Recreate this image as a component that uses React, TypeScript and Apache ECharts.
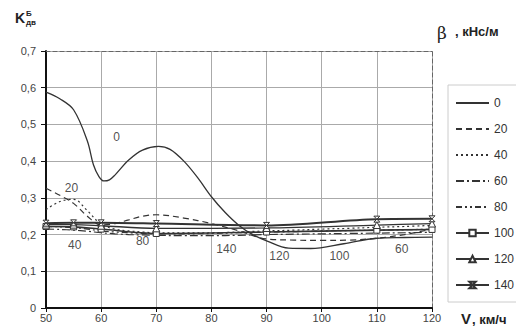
import React, { useEffect, useRef } from "react";
import * as echarts from "echarts";

// Speed grid (km/h) for the β = 0 curve
const V0 = [50, 52.5, 55, 57.5, 58.6, 59.6, 60.5, 61.5, 62.5, 65, 67.5, 70.4, 72.5, 75, 77.5, 80, 82.5, 85, 87.5, 90, 94, 98, 104, 110, 115, 120];
const beta0 = [0.588, 0.57, 0.54, 0.455, 0.39, 0.358, 0.346, 0.349, 0.362, 0.403, 0.43, 0.44, 0.432, 0.4, 0.355, 0.303, 0.26, 0.225, 0.2, 0.183, 0.163, 0.162, 0.175, 0.19, 0.192, 0.193];

// Speed grid for the other smooth curves
const V = [50, 52.5, 55, 57.5, 60, 62.5, 65, 67.5, 70, 75, 80, 85, 90, 95, 100, 105, 110, 115, 120];
const beta20 = [0.326, 0.307, 0.285, 0.25, 0.226, 0.23, 0.24, 0.25, 0.254, 0.245, 0.23, 0.21, 0.188, 0.185, 0.184, 0.185, 0.19, 0.2, 0.215];
const beta40 = [0.268, 0.29, 0.296, 0.265, 0.228, 0.215, 0.21, 0.207, 0.205, 0.205, 0.205, 0.207, 0.21, 0.212, 0.215, 0.217, 0.22, 0.222, 0.225];
const beta60 = [0.215, 0.214, 0.212, 0.209, 0.205, 0.202, 0.2, 0.199, 0.198, 0.197, 0.197, 0.198, 0.2, 0.201, 0.202, 0.203, 0.204, 0.205, 0.206];
const beta80 = [0.222, 0.221, 0.219, 0.215, 0.21, 0.207, 0.205, 0.203, 0.202, 0.202, 0.203, 0.205, 0.207, 0.208, 0.21, 0.211, 0.212, 0.213, 0.215];

// Speed grid for the curves with markers
const VM = [50, 55, 60, 70, 90, 110, 120];
const beta100 = [0.222, 0.221, 0.215, 0.203, 0.207, 0.212, 0.214];
const beta120 = [0.227, 0.227, 0.224, 0.217, 0.218, 0.226, 0.23];
const beta140 = [0.231, 0.232, 0.232, 0.23, 0.225, 0.242, 0.243];

const seriesNames = ["0", "20", "40", "60", "80", "100", "120", "140"];

// Curve annotations (text, V, K)
const annText = ["0", "20", "40", "80", "140", "120", "100", "60"];
const annV = [62.9, 54.7, 55.3, 67.6, 82.8, 92.4, 103.3, 114.6];
const annK = [0.465, 0.326, 0.171, 0.18, 0.158, 0.139, 0.139, 0.158];

const FONT = "'Liberation Sans', Arial, sans-serif";
const INK = "#333";

const zip = (xs: number[], ys: number[]) => xs.map((x, i) => [x, ys[i]]);

export default function App() {
  const ref = useRef<HTMLDivElement>(null);
  useEffect(() => {
    if (!ref.current) return;
    const chart = echarts.init(ref.current, null, { renderer: "svg" });
    const smoothLine = (name: string, xs: number[], data: number[], type: any, width = 1.2) => ({
      name,
      type: "line",
      data: zip(xs, data),
      smooth: 0.35,
      symbol: "none",
      lineStyle: { color: INK, width, type },
      itemStyle: { color: INK },
      z: 3,
    });
    const markLine = (name: string, data: number[], symbol: string, size: number, width = 1.3) => ({
      name,
      type: "line",
      data: zip(VM, data),
      smooth: 0.3,
      symbol,
      symbolSize: size,
      showSymbol: true,
      lineStyle: { color: INK, width },
      itemStyle: { color: "#fff", borderColor: INK, borderWidth: 1 },
      z: 4,
    });
    const plainItems = new Set(["0", "20", "40", "60", "80"]);
    chart.setOption({
      animation: false,
      textStyle: { fontFamily: FONT },
      grid: { left: 46, right: 84, top: 51, bottom: 25, containLabel: false },
      xAxis: [
        {
          type: "value",
          min: 50,
          max: 120,
          interval: 10,
          axisLine: { show: true, onZero: false, lineStyle: { color: "#111", width: 2 } },
          axisTick: { show: true, length: 4, lineStyle: { color: "#111" } },
          axisLabel: { color: "#444", fontSize: 11, margin: 4, fontFamily: FONT },
          splitLine: { show: true, lineStyle: { color: "#aaa", width: 1 } },
        },
        {
          type: "value",
          position: "top",
          min: 50,
          max: 120,
          interval: 10,
          axisLine: { show: true, onZero: false, lineStyle: { color: "#666", width: 1, type: [4, 3] } },
          axisTick: { show: false },
          axisLabel: { show: false },
          splitLine: { show: false },
        },
      ],
      yAxis: [
        {
          type: "value",
          min: 0,
          max: 0.7,
          interval: 0.1,
          axisLine: { show: true, onZero: false, lineStyle: { color: "#111", width: 2 } },
          axisTick: { show: true, length: 5, lineStyle: { color: "#111" } },
          axisLabel: {
            color: "#444",
            fontSize: 11,
            margin: 10,
            fontFamily: FONT,
            formatter: (v: number) => (v === 0 ? "0" : v.toFixed(1).replace(".", ",")),
          },
          splitLine: { show: true, lineStyle: { color: "#aaa", width: 1 } },
        },
        {
          type: "value",
          position: "right",
          min: 0,
          max: 0.7,
          interval: 0.1,
          axisLine: { show: true, onZero: false, lineStyle: { color: "#666", width: 1, type: [4, 3] } },
          axisTick: { show: false },
          axisLabel: { show: false },
          splitLine: { show: false },
        },
      ],
      legend: {
        orient: "vertical",
        left: 448,
        top: 85,
        width: 64,
        padding: [12, 5, 11, 7],
        itemWidth: 33,
        itemHeight: 8,
        itemGap: 14,
        borderColor: "#ccc",
        borderWidth: 1,
        textStyle: { color: INK, fontSize: 12, fontFamily: FONT },
        data: seriesNames.map((n) =>
          plainItems.has(n) ? { name: n, itemStyle: { opacity: 0 } } : { name: n }
        ),
      },
      series: [
        smoothLine(seriesNames[0], V0, beta0, "solid", 1.3),
        smoothLine(seriesNames[1], V, beta20, [6, 4]),
        smoothLine(seriesNames[2], V, beta40, [2, 3]),
        smoothLine(seriesNames[3], V, beta60, [8, 3, 2, 3]),
        smoothLine(seriesNames[4], V, beta80, [6, 3, 2, 3, 2, 3]),
        markLine(seriesNames[5], beta100, "rect", 6, 1.6),
        markLine(seriesNames[6], beta120, "triangle", 7, 1.3),
        markLine(seriesNames[7], beta140, "path://M0,0L10,0L0,10L10,10Z", 6, 2),
        {
          name: "annotations",
          type: "scatter",
          data: annV.map((v, i) => ({ value: [v, annK[i]], name: annText[i] })),
          symbolSize: 1,
          silent: true,
          itemStyle: { color: "rgba(0,0,0,0)" },
          label: {
            show: true,
            position: [0, 0],
            align: "center",
            verticalAlign: "middle",
            formatter: (p: any) => p.name,
            color: "#222",
            fontSize: 12,
            fontFamily: FONT,
          },
          z: 6,
        },
      ],
      graphic: [
        { type: "text", left: 15, top: 11, style: { text: "K", font: `bold 14px ${FONT}`, fill: "#222" } },
        { type: "text", left: 26, top: 9, style: { text: "Б", font: `bold 8px ${FONT}`, fill: "#222" } },
        { type: "text", left: 26, top: 18, style: { text: "дв", font: `bold 8px ${FONT}`, fill: "#222" } },
        { type: "text", left: 437, top: 24, style: { text: "β", font: `17px 'DejaVu Serif', serif`, fill: "#222" } },
        { type: "text", left: 455, top: 25, style: { text: ", кНс/м", font: `bold 13px ${FONT}`, fill: "#222" } },
        { type: "text", left: 461, top: 311, style: { text: "V", font: `bold 15px ${FONT}`, fill: "#222" } },
        { type: "text", left: 472, top: 313, style: { text: ", км/ч", font: `bold 13px ${FONT}`, fill: "#222" } },
      ],
    });
    return () => chart.dispose();
  }, []);
  return <div ref={ref} style={{ position: "fixed", left: 0, top: 0, width: 516, height: 333, background: "#fff" }} />;
}
